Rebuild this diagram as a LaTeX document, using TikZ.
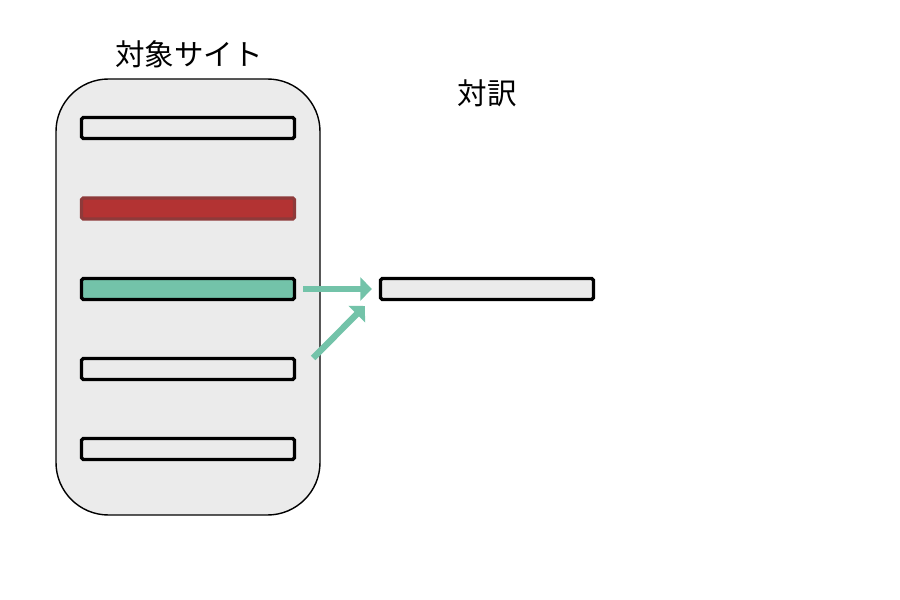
\documentclass[tikz,border=0pt]{standalone}
\usepackage{fontspec}
\setmainfont{Noto Sans CJK JP}
\usepackage{tikz}
\usetikzlibrary{arrows.meta}
\definecolor{boxgray}{HTML}{EBEBEB}
\definecolor{barred}{HTML}{B33333}
\definecolor{barredline}{HTML}{8E3A3A}
\definecolor{bargreen}{HTML}{73C3A9}
\tikzset{
    bar/.style={draw=black,line width=1.9pt,fill=boxgray,rounded corners=1pt,
        minimum width=4.26cm,minimum height=0.42cm,inner sep=0pt},
    title/.style={font=\fontsize{16.8}{19}\selectfont},
    pick/.style={draw=bargreen,line width=3.6pt,-{Triangle[length=2.3mm,width=4.6mm]}}
}

\begin{document}
\begin{tikzpicture}
    \useasboundingbox (0,0) rectangle (18,12);
    \draw[fill=boxgray,line width=0.8pt,rounded corners=1.05cm] (1.12,1.7) rectangle (6.4,10.42);
    \node[title] (site) at (3.78,10.92) {対象サイト};
    \node[title] (trans) at (9.74,10.14) {対訳};

    \node[bar] (b1) at (3.76,9.44) {};
    \node[bar,fill=barred,draw=barredline] (b2) at (3.76,7.83) {};
    \node[bar,fill=bargreen] (b3) at (3.76,6.22) {};
    \node[bar] (b4) at (3.76,4.62) {};
    \node[bar] (b5) at (3.76,3.02) {};

    \node[bar] (tgt) at (9.74,6.22) {};

    \draw[pick] ([xshift=1.4mm]b3.east) -- ([xshift=-1.4mm]tgt.west);
    \draw[pick] ([xshift=3.4mm,yshift=2.2mm]b4.east) -- ([xshift=-2.8mm,yshift=-3.4mm]tgt.west);
\end{tikzpicture}
\end{document}
